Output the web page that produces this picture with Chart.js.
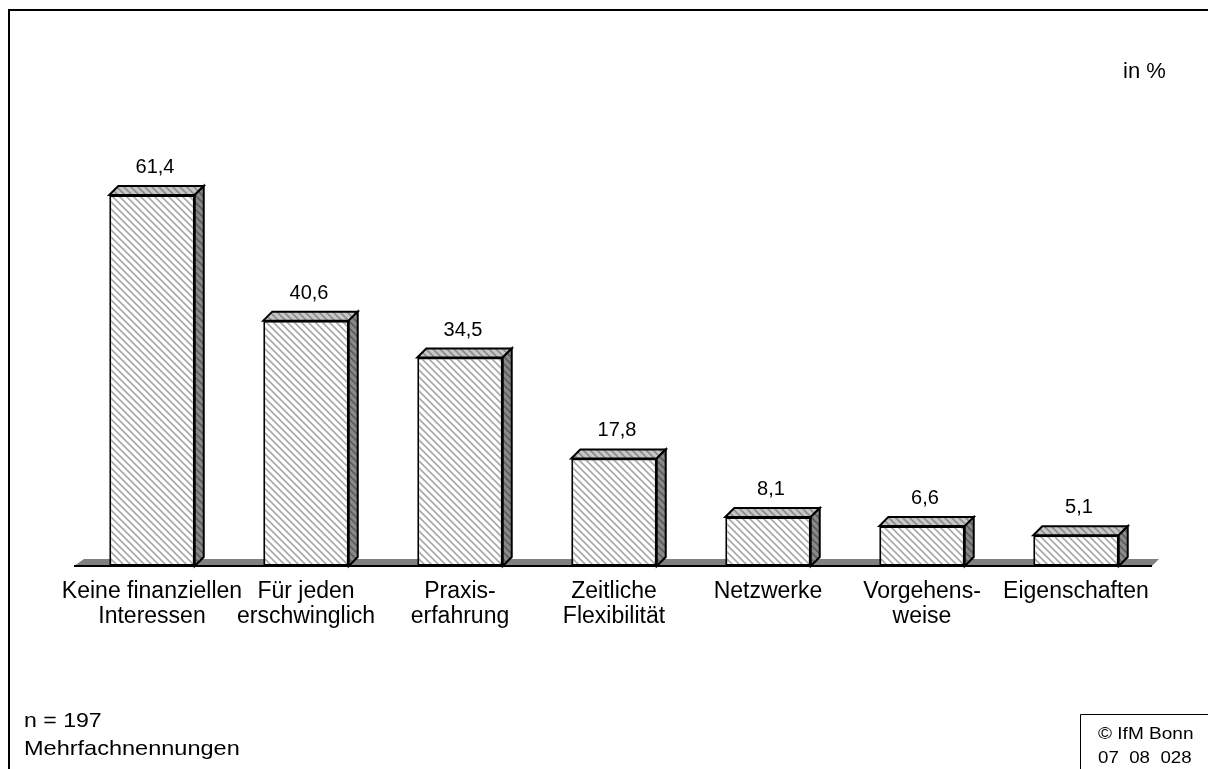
<!DOCTYPE html>
<html>
<head>
<meta charset="utf-8">
<script src="https://cdn.jsdelivr.net/npm/chart.js@4/dist/chart.umd.min.js"></script>
<style>
  html, body { margin: 0; padding: 0; background: #fff; }
  #wrap { width: 1208px; height: 769px; position: relative; }
</style>
</head>
<body>
<div id="wrap"><canvas id="myChart" width="1208" height="769"></canvas></div>
<script>
// data
const categories = [
    ['Keine finanziellen', 'Interessen'],
    ['Für jeden', 'erschwinglich'],
    ['Praxis-', 'erfahrung'],
    ['Zeitliche', 'Flexibilität'],
    ['Netzwerke'],
    ['Vorgehens-', 'weise'],
    ['Eigenschaften']
]
const values = [61.4, 40.6, 34.5, 17.8, 8.1, 6.6, 5.1]
const valueLabels = ['61,4', '40,6', '34,5', '17,8', '8,1', '6,6', '5,1']

const FONT = '"Liberation Sans", Arial, sans-serif'
const DEPTH = 9

function hatch(bg, line) {
    let c = document.createElement('canvas')
    c.width = 7
    c.height = 7
    let g = c.getContext('2d')
    g.fillStyle = bg
    g.fillRect(0, 0, 7, 7)
    g.strokeStyle = line
    g.lineWidth = 1.6
    g.beginPath()
    g.moveTo(-2, -2); g.lineTo(9, 9)
    g.moveTo(-9, -2); g.lineTo(2, 9)
    g.moveTo(5, -2); g.lineTo(16, 9)
    g.stroke()
    return g.createPattern(c, 'repeat')
}

let ctx = document.querySelector('#myChart').getContext('2d')
const frontFill = hatch('#ffffff', '#a8a8a8')
const topFill = hatch('#c8c8c8', '#8c8c8c')
const sideFill = hatch('#8a8a8a', '#5c5c5c')

// text stretched a little sideways, like the original export
function wideText(c, txt, x, y, sx) {
    c.save()
    c.translate(x, y)
    c.scale(sx, 1)
    c.fillText(txt, 0, 0)
    c.restore()
}

const decor = {
    id: 'decor',
    beforeDatasetsDraw(chart) {
        let c = chart.ctx
        let a = chart.chartArea
        let base = a.bottom
        c.save()
        // floor
        c.fillStyle = '#808080'
        c.beginPath()
        c.moveTo(a.left - 1, base)
        c.lineTo(a.left + 9, base - 7)
        c.lineTo(a.right + 6, base - 7)
        c.lineTo(a.right - 1, base)
        c.closePath()
        c.fill()
        c.strokeStyle = '#000'
        c.lineWidth = 2
        c.beginPath()
        c.moveTo(a.left - 1, base)
        c.lineTo(a.right - 1, base)
        c.stroke()
        c.restore()
    },
    afterDatasetsDraw(chart) {
        let c = chart.ctx
        let meta = chart.getDatasetMeta(0)
        c.save()
        c.lineWidth = 2
        c.strokeStyle = '#000'
        c.lineJoin = 'miter'
        meta.data.forEach((bar, i) => {
            let x1 = bar.x - bar.width / 2
            let x2 = bar.x + bar.width / 2
            let top = bar.y
            let base = bar.base
            // top face
            c.fillStyle = topFill
            c.beginPath()
            c.moveTo(x1, top)
            c.lineTo(x1 + DEPTH, top - DEPTH)
            c.lineTo(x2 + DEPTH, top - DEPTH)
            c.lineTo(x2, top)
            c.closePath()
            c.fill()
            c.stroke()
            // side face
            c.fillStyle = sideFill
            c.beginPath()
            c.moveTo(x2, top)
            c.lineTo(x2 + DEPTH, top - DEPTH)
            c.lineTo(x2 + DEPTH, base - DEPTH)
            c.lineTo(x2, base)
            c.closePath()
            c.fill()
            c.stroke()
            // value label
            c.fillStyle = '#000'
            c.font = '20px ' + FONT
            c.textAlign = 'center'
            c.textBaseline = 'alphabetic'
            c.fillText(valueLabels[i], bar.x + 3, top - 22)
        })
        c.restore()
    },
    afterDraw(chart) {
        let c = chart.ctx
        c.save()
        // outer frame
        c.strokeStyle = '#000'
        c.lineWidth = 2
        c.beginPath()
        c.moveTo(9, 775)
        c.lineTo(9, 10)
        c.lineTo(1215, 10)
        c.stroke()
        c.fillStyle = '#000'
        c.textAlign = 'left'
        c.textBaseline = 'alphabetic'
        c.font = '22px ' + FONT
        c.fillText('in %', 1123, 78)
        c.font = '21px ' + FONT
        wideText(c, 'n = 197', 24, 727, 1.1)
        wideText(c, 'Mehrfachnennungen', 24, 755, 1.12)
        // copyright box
        c.lineWidth = 1
        c.beginPath()
        c.moveTo(1080.5, 775)
        c.lineTo(1080.5, 714.5)
        c.lineTo(1215, 714.5)
        c.stroke()
        c.font = '17px ' + FONT
        wideText(c, '© IfM Bonn', 1098, 739, 1.12)
        wideText(c, '07  08  028', 1098, 763, 1.1)
        c.restore()
    }
}

let myChart = new Chart(ctx, {
    type: 'bar',
    data: {
        labels: categories,
        datasets: [{
            label: 'in %',
            data: values,
            backgroundColor: frontFill,
            borderColor: '#000',
            borderWidth: 2,
            borderSkipped: false,
            categoryPercentage: 1,
            barPercentage: 0.555
        }]
    },
    options: {
        responsive: false,
        animation: false,
        layout: {
            padding: { left: 75, right: 55, top: 143, bottom: 0 }
        },
        scales: {
            x: {
                grid: { display: false, drawTicks: false },
                border: { display: false },
                ticks: {
                    color: '#000',
                    font: { family: FONT, size: 23, lineHeight: 1.1 },
                    padding: 13,
                    maxRotation: 0,
                    autoSkip: false
                },
                afterFit(scale) {
                    scale.height = 203
                }
            },
            y: {
                display: false,
                min: 0,
                max: 70
            }
        },
        plugins: {
            legend: { display: false },
            tooltip: { enabled: false }
        }
    },
    plugins: [decor]
})
</script>
</body>
</html>
